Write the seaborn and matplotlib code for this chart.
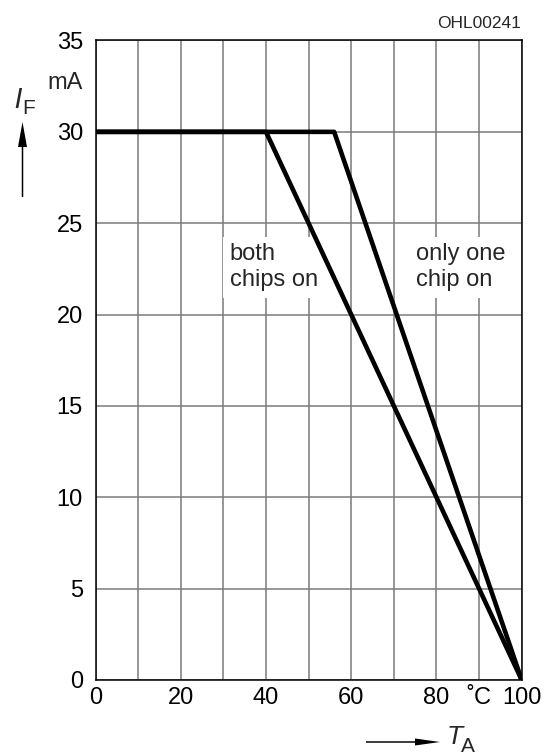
import matplotlib
matplotlib.use("Agg")
import matplotlib.pyplot as plt
import seaborn as sns
import pandas as pd

# Data
temp_both = [0, 40, 100]
if_both = [30, 30, 0]
temp_one = [0, 56, 100]
if_one = [30, 30, 0]
x_ticks = [0, 10, 20, 30, 40, 50, 60, 70, 80, 90, 100]
x_labels = ["0", "", "20", "", "40", "", "60", "", "80", "˚C", "100"]
y_ticks = [0, 5, 10, 15, 20, 25, 30, 35]
y_labels = ["0", "5", "10", "15", "20", "25", "30", "35"]

df = pd.DataFrame({
    "T": temp_both + temp_one,
    "I": if_both + if_one,
    "series": ["both"] * len(temp_both) + ["one"] * len(temp_one),
})

sns.set_theme(style="white")
FONT = ["Liberation Sans Narrow", "Liberation Sans", "DejaVu Sans"]
plt.rcParams["font.family"] = FONT

fig = plt.figure(figsize=(5.48, 7.56), dpi=100)
ax = fig.add_axes([95.5 / 548, 1 - 680 / 756, (521.7 - 95.5) / 548, (680 - 40.5) / 756])

sns.lineplot(data=df, x="T", y="I", hue="series", palette=["black", "black"],
             linewidth=3.3, legend=False, ax=ax, zorder=5, sort=False)

ax.set_xlim(0, 100)
ax.set_ylim(0, 35)
ax.set_xticks(x_ticks)
ax.set_xticklabels(x_labels)
ax.set_yticks(y_ticks)
ax.set_yticklabels(y_labels)
ax.tick_params(axis="both", length=0, labelsize=17, colors="black")
ax.tick_params(axis="y", pad=9)
ax.tick_params(axis="x", pad=5)
ax.grid(True, color="#7a7a7a", linewidth=1.1)
for s in ax.spines.values():
    s.set_visible(True)
    s.set_color("black")
    s.set_linewidth(1.1)
ax.set_xlabel("")
ax.set_ylabel("")

# mA unit label
ax.text(-12.3 / 4.262, 32.7, "mA", ha="right", va="center", fontsize=17)

# annotations
bbox = dict(facecolor="white", edgecolor="none", pad=5)
ax.text(31.5, 22.6, "both\nchips on", ha="left", va="center", fontsize=17,
        linespacing=1.2, bbox=bbox, zorder=3)
ax.text(75.3, 22.6, "only one\nchip on", ha="left", va="center", fontsize=17,
        linespacing=1.2, bbox=bbox, zorder=3)

# code in corner
fig.text(521 / 548, 1 - 23 / 756, "OHL00241", ha="right", va="center", fontsize=12.5)

# Y axis label with arrow
fig.text(19 / 548, 1 - 100 / 756, "$I$", ha="center", va="center", fontsize=19,
         family="DejaVu Serif")
fig.text(29 / 548, 1 - 109 / 756, "F", ha="center", va="center", fontsize=15)
fig.patches.append(matplotlib.patches.FancyArrow(
    22.5 / 548, 1 - 197 / 756, 0, 75 / 756, width=1.5 / 548, head_width=9 / 548,
    head_length=25 / 756, length_includes_head=True, facecolor="black",
    edgecolor="none", transform=fig.transFigure, figure=fig))

# X axis label with arrow
fig.patches.append(matplotlib.patches.FancyArrow(
    366 / 548, 1 - 742 / 756, 74 / 548, 0, width=1.5 / 756, head_width=7 / 756,
    head_length=25 / 548, length_includes_head=True, facecolor="black",
    edgecolor="none", transform=fig.transFigure, figure=fig))
fig.text(455 / 548, 1 - 737 / 756, "T", ha="center", va="center", fontsize=19,
         style="italic")
fig.text(468 / 548, 1 - 747 / 756, "A", ha="center", va="center", fontsize=15)

fig.savefig("out.png", dpi=100)
